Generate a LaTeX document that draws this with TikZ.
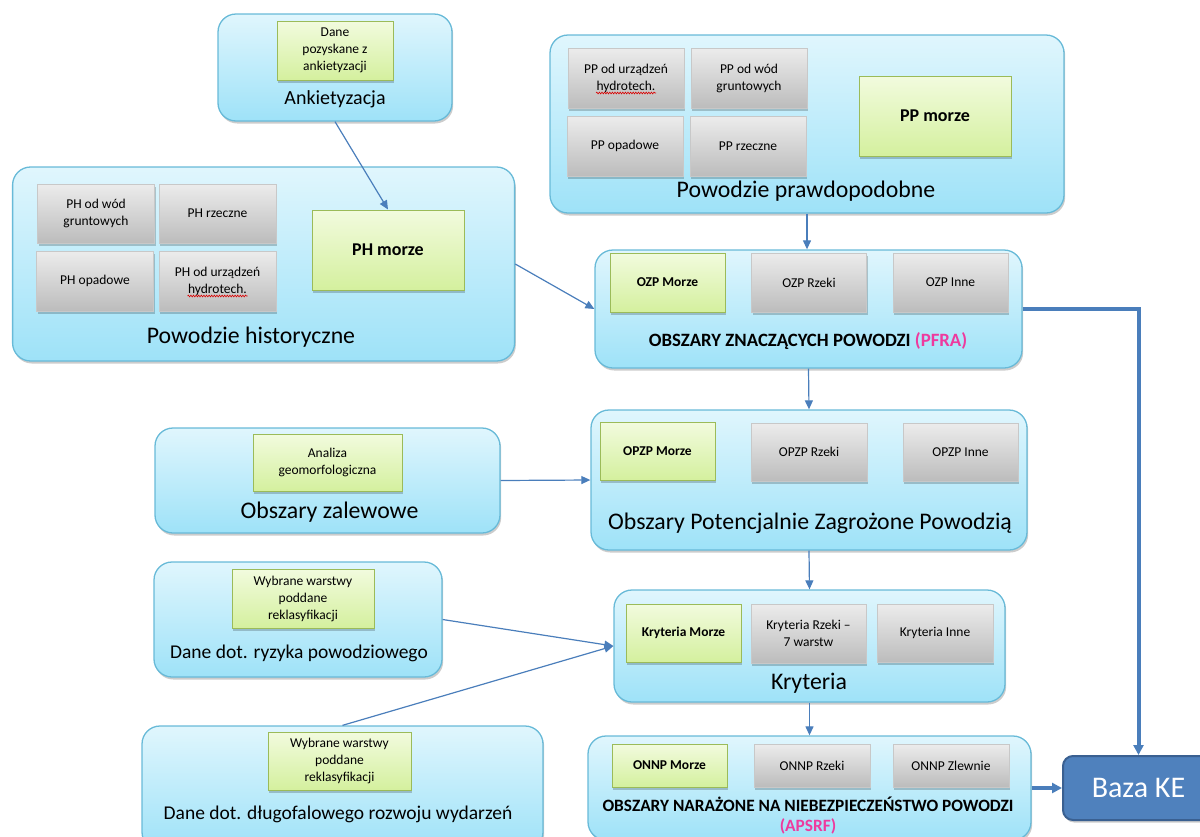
\documentclass[tikz,border=0pt]{standalone}
\usepackage{fontspec}
\setmainfont{Carlito}
\usetikzlibrary{arrows.meta,decorations.pathmorphing}

\definecolor{ramka}{RGB}{104,186,216}
\definecolor{gtop}{RGB}{224,246,253}
\definecolor{gbot}{RGB}{158,226,248}
\definecolor{stop}{RGB}{236,236,236}
\definecolor{sbot}{RGB}{188,188,188}
\definecolor{sramka}{RGB}{200,200,200}
\definecolor{ztop}{RGB}{242,251,222}
\definecolor{zbot}{RGB}{212,240,158}
\definecolor{zramka}{RGB}{155,187,89}
\definecolor{niebieski}{RGB}{74,126,187}
\definecolor{roz}{RGB}{238,58,158}
\definecolor{bazafill}{RGB}{79,129,189}
\definecolor{bazaramka}{RGB}{58,96,145}

\newcommand{\maly}{\fontsize{13.5}{17}\selectfont}
\newcommand{\duzy}{\fontsize{23.8}{28}\selectfont}
\newcommand{\sredni}{\fontsize{19.5}{24}\selectfont}
\newcommand{\naglowek}{\fontsize{18.8}{21}\selectfont\bfseries}

\begin{document}
\begin{tikzpicture}[x=1pt,y=1pt,yscale=-1,xscale=1,
	wym/.style 2 args={minimum width=#1pt,minimum height=#2pt},
	cien/.style={preaction={fill=black,opacity=0.2,transform canvas={xshift=1.2pt,yshift=-2.5pt}}},
	grupa/.style={draw=ramka,line width=1.3pt,rounded corners=18pt,top color=gtop,bottom color=gbot,inner sep=0pt,cien},
	szary/.style={draw=sramka,line width=0.6pt,top color=stop,bottom color=sbot,align=center,font=\maly,inner sep=1pt,cien},
	zielony/.style={draw=zramka,line width=1pt,top color=ztop,bottom color=zbot,align=center,font=\maly,inner sep=1pt,cien},
	opis/.style={font=\duzy,inner sep=0pt},
	strz/.style={draw=niebieski,line width=1.2pt,-{Triangle[length=9pt,width=8pt]}},
	gruba/.style={draw=niebieski,line width=4pt,-{Triangle[length=10pt,width=10pt]}},
	kreska/.style={draw=red!85!black,line width=0.6pt,decorate,decoration={snake,amplitude=0.9pt,segment length=2.6pt}}]
	\useasboundingbox (0,0) rectangle (1200,836);
	\clip (0,0) rectangle (1200,836);
	
	%Group: Ankietyzacja
	\node [grupa,wym={234}{107}] (ank) at (335,67.5) {};
	\node [zielony,wym={116}{59}] (ankDane) at (335,50.5) {Dane\\pozyskane z\\ankietyzacji};
	\node [opis,font=\fontsize{20}{24}\selectfont] (ankOpis) at (335,99) {Ankietyzacja};
	
	%Group: Powodzie historyczne
	\node [grupa,wym={502}{194}] (ph) at (263.6,264) {};
	\node [szary,wym={117}{59}] (phGrunt) at (96,213.5) {PH od wód\\gruntowych};
	\node [szary,wym={117}{59}] (phRzecz) at (217.5,213.5) {PH rzeczne};
	\node [szary,wym={117}{60}] (phOpad) at (95,281) {PH opadowe};
	\node [szary,wym={117}{60}] (phHydro) at (217.5,281) {PH od urządzeń\\hydrotech.};
	\node [zielony,wym={152}{80},font=\fontsize{18}{22}\selectfont\bfseries] (phMorze) at (388,250) {PH morze};
	\node [opis] (phOpis) at (251,337) {Powodzie historyczne};
	\draw [kreska] ([shift={(-30,15)}]phHydro.center) -- ([shift={(30,15)}]phHydro.center);
	
	%Group: Powodzie prawdopodobne
	\node [grupa,wym={514}{178}] (pp) at (807,124) {};
	\node [szary,wym={116}{60}] (ppHydro) at (626,78) {PP od urządzeń\\hydrotech.};
	\node [szary,wym={116}{60}] (ppGrunt) at (749,78) {PP od wód\\gruntowych};
	\node [szary,wym={116}{60}] (ppOpad) at (625,146) {PP opadowe};
	\node [szary,wym={116}{60}] (ppRzecz) at (748,146) {PP rzeczne};
	\node [zielony,wym={152}{80},font=\fontsize{18}{22}\selectfont\bfseries] (ppMorze) at (935,116) {PP morze};
	\node [opis] (ppOpis) at (806,191) {Powodzie prawdopodobne};
	\draw [kreska] ([shift={(-30,15)}]ppHydro.center) -- ([shift={(30,15)}]ppHydro.center);
	
	%Group: OZP (PFRA)
	\node [grupa,wym={427}{118}] (ozp) at (808.5,309) {};
	\node [zielony,wym={115}{59},font=\maly\bfseries] (ozpMorze) at (667.5,282.5) {OZP Morze};
	\node [szary,wym={115}{59}] (ozpRzeki) at (809,282.5) {OZP Rzeki};
	\node [szary,wym={115}{59}] (ozpInne) at (950.5,282.5) {OZP Inne};
	\node [opis,font=\naglowek] (ozpOpis) at (808,341) {OBSZARY ZNACZĄCYCH POWODZI \textcolor{roz}{(PFRA)}};
	
	%Group: Obszary zalewowe
	\node [grupa,wym={345}{105}] (zal) at (327.5,480.5) {};
	\node [zielony,wym={149}{57}] (zalAnaliza) at (327.5,462.5) {Analiza\\geomorfologiczna};
	\node [opis] (zalOpis) at (329.5,512) {Obszary zalewowe};
	
	%Group: OPZP
	\node [grupa,wym={436}{140}] (opzp) at (809,480) {};
	\node [zielony,wym={115}{58},font=\maly\bfseries] (opzpMorze) at (657.5,451) {OPZP Morze};
	\node [szary,wym={116}{58}] (opzpRzeki) at (809,452) {OPZP Rzeki};
	\node [szary,wym={115}{58}] (opzpInne) at (960.5,452) {OPZP Inne};
	\node [opis] (opzpOpis) at (810,523) {Obszary Potencjalnie Zagrożone Powodzią};
	
	%Group: Dane dot. ryzyka
	\node [grupa,wym={288}{115}] (ryz) at (298,619.5) {};
	\node [zielony,wym={142}{59}] (ryzWarstwy) at (303,598.5) {Wybrane warstwy\\poddane\\reklasyfikacji};
	\node [opis,font=\sredni] (ryzOpis) at (299,653) {Dane dot. ryzyka powodziowego};
	
	%Group: Kryteria
	\node [grupa,wym={391}{112}] (kryt) at (809.5,646) {};
	\node [zielony,wym={115}{58},font=\maly\bfseries] (krytMorze) at (683.5,633) {Kryteria Morze};
	\node [szary,wym={115}{59}] (krytRzeki) at (808.5,633.5) {Kryteria Rzeki –\\7 warstw};
	\node [szary,wym={116}{58}] (krytInne) at (935,633) {Kryteria Inne};
	\node [opis] (krytOpis) at (809,683) {Kryteria};
	
	%Group: Dane dot. dlugofalowego rozwoju
	\node [grupa,wym={401}{124}] (dlugo) at (342.5,788) {};
	\node [zielony,wym={143}{58}] (dlugoWarstwy) at (339.5,761) {Wybrane warstwy\\poddane\\reklasyfikacji};
	\node [opis,font=\sredni] (dlugoOpis) at (338,814) {Dane dot. długofalowego rozwoju wydarzeń};
	
	%Group: ONNP (APSRF)
	\node [grupa,wym={443}{104}] (onnp) at (809.5,788) {};
	\node [zielony,wym={115}{43},font=\maly\bfseries] (onnpMorze) at (669.5,765.5) {ONNP Morze};
	\node [szary,wym={116}{43}] (onnpRzeki) at (812,765.5) {ONNP Rzeki};
	\node [szary,wym={116}{43}] (onnpZlewnie) at (951,765.5) {ONNP Zlewnie};
	\node [opis,font=\fontsize{17.3}{20}\selectfont\bfseries,align=center] (onnpOpis) at (808,816) {OBSZARY NARAŻONE NA NIEBEZPIECZEŃSTWO POWODZI\\\textcolor{roz}{(APSRF)}};
	
	%Shape: Baza KE
	\node [draw=bazaramka,line width=2pt,fill=bazafill,rounded corners=10pt,wym={151}{64},text=white,font=\fontsize{30}{36}\selectfont,cien] (baza) at (1138.5,788) {Baza KE};
	
	%Connectors
	\draw [strz] (ank.south) -- (phMorze.north);
	\draw [strz] (ph.east) -- (ozp.west);
	\draw [strz] (pp.south) -- (pp.south |- ozp.north);
	\draw [strz] (ozp.south) -- (opzp.north);
	\draw [strz] (zal.east) -- (opzp.west);
	\draw [strz] (opzp.south) -- (kryt.north);
	\draw [strz] (ryz.east) -- (kryt.west);
	\draw [strz] (dlugo.north) -- (kryt.west);
	\draw [strz] (kryt.south) -- (onnp.north);
	\draw [gruba] (ozp.east) -| (baza.north);
	\draw [gruba] (onnp.east) -- (onnp.east -| baza.west);
	
\end{tikzpicture}
\end{document}
